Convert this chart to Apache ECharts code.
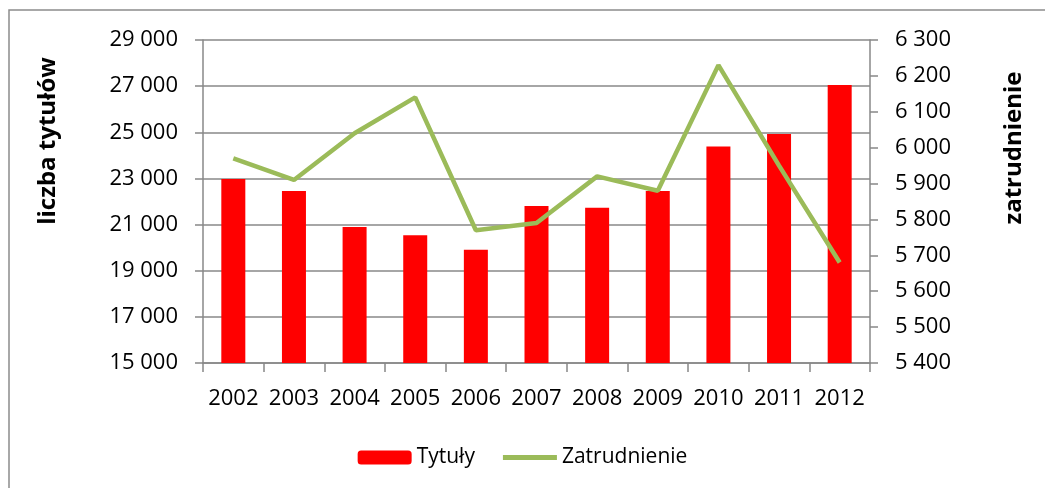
<!DOCTYPE html>
<html>
<head>
<meta charset="utf-8">
<script src="https://cdn.jsdelivr.net/npm/echarts@6/dist/echarts.min.js"></script>
<style>
  html, body { margin: 0; padding: 0; background: #fff; }
  #chart { width: 1045px; height: 488px; }
</style>
</head>
<body>
<div id="chart"></div>
<script>
const years = ['2002', '2003', '2004', '2005', '2006', '2007', '2008', '2009', '2010', '2011', '2012'];
const tytuly = [22970, 22450, 20890, 20540, 19910, 21810, 21730, 22460, 24380, 24930, 27050];
const zatrudnienie = [5970, 5910, 6040, 6140, 5770, 5790, 5920, 5880, 6230, 5950, 5680];

const FONT = '"Open Sans", sans-serif';

function spaced(v) {
    return String(v).replace(/\B(?=(\d{3})+(?!\d))/g, ' ');
}

var myChart = echarts.init(document.getElementById('chart'));

option = {
    animation: false,
    textStyle: { fontFamily: FONT },
    graphic: [
        {
            type: 'rect',
            shape: { x: 9, y: 10, width: 1100, height: 600 },
            style: { fill: 'none', stroke: '#8c8c8c', lineWidth: 1.5 },
            silent: true
        },
        {
            type: 'text',
            x: 48,
            y: 141,
            rotation: Math.PI / 2,
            style: {
                text: 'liczba tytułów',
                font: 'bold 24px ' + FONT,
                fill: '#000',
                align: 'center',
                verticalAlign: 'middle'
            }
        },
        {
            type: 'text',
            x: 1014,
            y: 148,
            rotation: Math.PI / 2,
            style: {
                text: 'zatrudnienie',
                font: 'bold 24px ' + FONT,
                fill: '#000',
                align: 'center',
                verticalAlign: 'middle'
            }
        }
    ],
    legend: {
        bottom: 15,
        left: 'center',
        itemWidth: 54,
        itemHeight: 14,
        itemGap: 28,
        textStyle: { fontSize: 21, color: '#000', fontFamily: FONT },
        data: [
            { name: 'Tytuły' },
            { name: 'Zatrudnienie', icon: 'path://M0,0 L54,0 L54,5 L0,5 Z' }
        ]
    },
    grid: {
        left: 203,
        right: 175,
        top: 40,
        bottom: 125
    },
    xAxis: {
        type: 'category',
        data: years,
        axisLine: { lineStyle: { color: '#888', width: 1.5 } },
        axisTick: { show: true, length: 9, lineStyle: { color: '#888', width: 1.5 } },
        axisLabel: { color: '#000', fontSize: 22, margin: 25, interval: 0, fontFamily: FONT }
    },
    yAxis: [
        {
            type: 'value',
            min: 15000,
            max: 29000,
            interval: 2000,
            axisLine: { show: true, lineStyle: { color: '#888', width: 1.5 } },
            axisTick: { show: true, length: 8, lineStyle: { color: '#888', width: 1.5 } },
            splitLine: { show: true, lineStyle: { color: '#888', width: 1.5 } },
            axisLabel: {
                color: '#000',
                fontSize: 22,
                margin: 25,
                fontFamily: FONT,
                formatter: spaced
            }
        },
        {
            type: 'value',
            min: 5400,
            max: 6300,
            interval: 100,
            axisLine: { show: true, lineStyle: { color: '#888', width: 1.5 } },
            axisTick: { show: true, length: 8, lineStyle: { color: '#888', width: 1.5 } },
            splitLine: { show: false },
            axisLabel: {
                color: '#000',
                fontSize: 22,
                margin: 25,
                fontFamily: FONT,
                formatter: spaced
            }
        }
    ],
    series: [
        {
            name: 'Tytuły',
            type: 'bar',
            yAxisIndex: 0,
            barWidth: 24,
            itemStyle: { color: '#ff0000' },
            data: tytuly
        },
        {
            name: 'Zatrudnienie',
            type: 'line',
            yAxisIndex: 1,
            symbol: 'none',
            lineStyle: { color: '#9bbb59', width: 4.5 },
            itemStyle: { color: '#9bbb59' },
            data: zatrudnienie
        }
    ]
};
myChart.setOption(option);
</script>
</body>
</html>
